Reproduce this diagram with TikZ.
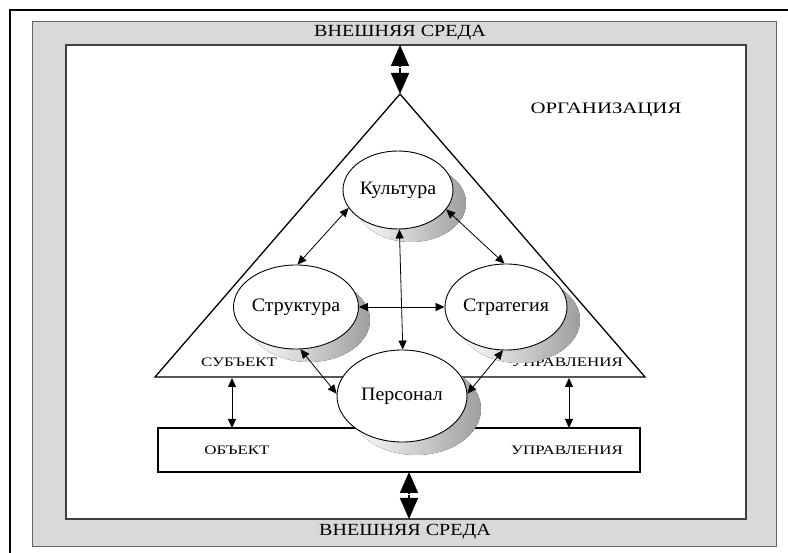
\documentclass[tikz,border=0pt]{standalone}
\usepackage{fontspec}
\setmainfont{Liberation Serif}
\usetikzlibrary{arrows.meta,shapes.geometric}

% text set at a given size and horizontal stretch
\newcommand{\lbl}[3]{\scalebox{#2}[1]{\fontsize{#1}{#1}\selectfont #3}}

\tikzset{
  x=1pt, y=-1pt,
  oval/.style={ellipse, draw=black, line width=0.9pt, fill=white, inner sep=0pt},
  ovalshadow/.style={shading=axis, left color=white, middle color=black!10, right color=black!38, shading angle=90},
  thin arrow/.style={line width=0.8pt, {Triangle[length=9pt,width=8pt]}-{Triangle[length=9pt,width=8pt]}},
  big head/.style={line width=1.6pt, -{Triangle[length=21pt,width=18pt]}},
  txt/.style={inner sep=0pt, text=black},
}

\begin{document}
\begin{tikzpicture}
\useasboundingbox (0,0) rectangle (788,553);

% outer frame (only its left and top edges fall on the page)
\draw[line width=2.4pt] (10,553) -- (10,10) -- (788,10);

% environment band and the organisation field
\filldraw[fill=black!15, draw=black!60, line width=1pt] (32,22) rectangle (776,546);
\filldraw[fill=white, draw=black!75, line width=1.2pt] (66,45) rectangle (746,519);

\node[txt] (envtop) at (400,33) {\lbl{17}{1.18}{ВНЕШНЯЯ СРЕДА}};
\node[txt] (envbot) at (405,532) {\lbl{17}{1.18}{ВНЕШНЯЯ СРЕДА}};
\node[txt] (org) at (606,110) {\lbl{16}{1.3}{ОРГАНИЗАЦИЯ}};

% subject of management
\coordinate (apex) at (400,94);
\coordinate (bl) at (155,377);
\coordinate (br) at (645,377);
\draw[line width=1.3pt, line join=miter] (apex) -- (bl) -- (br) -- cycle;
\node[txt] (subj) at (239,362) {\lbl{13}{1.3}{СУБЪЕКТ}};
\node[txt] (subjr) at (567,362) {\lbl{13}{1.3}{УПРАВЛЕНИЯ}};

% object of management
\node[draw, line width=1.3pt, minimum width=482pt, minimum height=44pt, inner sep=0pt] (obj) at (399,450) {};
\node[txt] (objl) at (237,450) {\lbl{13}{1.3}{ОБЪЕКТ}};
\node[txt] (objr) at (567,450) {\lbl{13}{1.3}{УПРАВЛЕНИЯ}};

% exchange with the environment: two heads split by a small gap
\coordinate (envin) at (400,45);
\coordinate (gapa) at (400,66);
\coordinate (gapb) at (400,68);
\draw[big head] (gapa) -- (envin);
\draw[big head] (gapb) -- (apex);
\coordinate (objb) at (409,472);
\coordinate (gapc) at (409,493);
\coordinate (gapd) at (409,495);
\coordinate (envout) at (409,519);
\draw[big head] (gapc) -- (objb);
\draw[big head] (gapd) -- (envout);

% links between subject and object
\coordinate (sl1) at (232,378);
\coordinate (ol1) at (232,428);
\coordinate (sl2) at (569,378);
\coordinate (ol2) at (569,428);
\draw[thin arrow] (sl1) -- (ol1);
\draw[thin arrow] (sl2) -- (ol2);

% shadows under the ovals
\fill[ovalshadow] (411,203) ellipse [x radius=55, y radius=39];
\fill[ovalshadow] (309,320) ellipse [x radius=61, y radius=42];
\fill[ovalshadow] (519,320) ellipse [x radius=61, y radius=43];
\fill[ovalshadow] (416,409) ellipse [x radius=65, y radius=46];

% the four elements
\node[oval, minimum width=110pt, minimum height=78pt] (kult) at (398,190) {\lbl{19}{1.05}{Культура}};
\node[oval, minimum width=122pt, minimum height=84pt] (strc) at (296,307) {\lbl{19}{1.05}{Структура}};
\node[oval, minimum width=122pt, minimum height=86pt] (strt) at (506,307) {\lbl{19}{1.05}{Стратегия}};
\node[oval, minimum width=130pt, minimum height=92pt] (pers) at (402,396) {\lbl{19}{1.05}{Персонал}};

% relations between elements
\draw[thin arrow] (kult.200) -- (strc.88);
\draw[thin arrow] (kult.338) -- (strt.92);
\draw[thin arrow] (kult.272) -- (pers.89);
\draw[thin arrow] (strc.east) -- (strt.west);
\draw[thin arrow] (strc.276) -- (pers.178);
\draw[thin arrow] (strt.266) -- (pers.2);
\end{tikzpicture}
\end{document}
